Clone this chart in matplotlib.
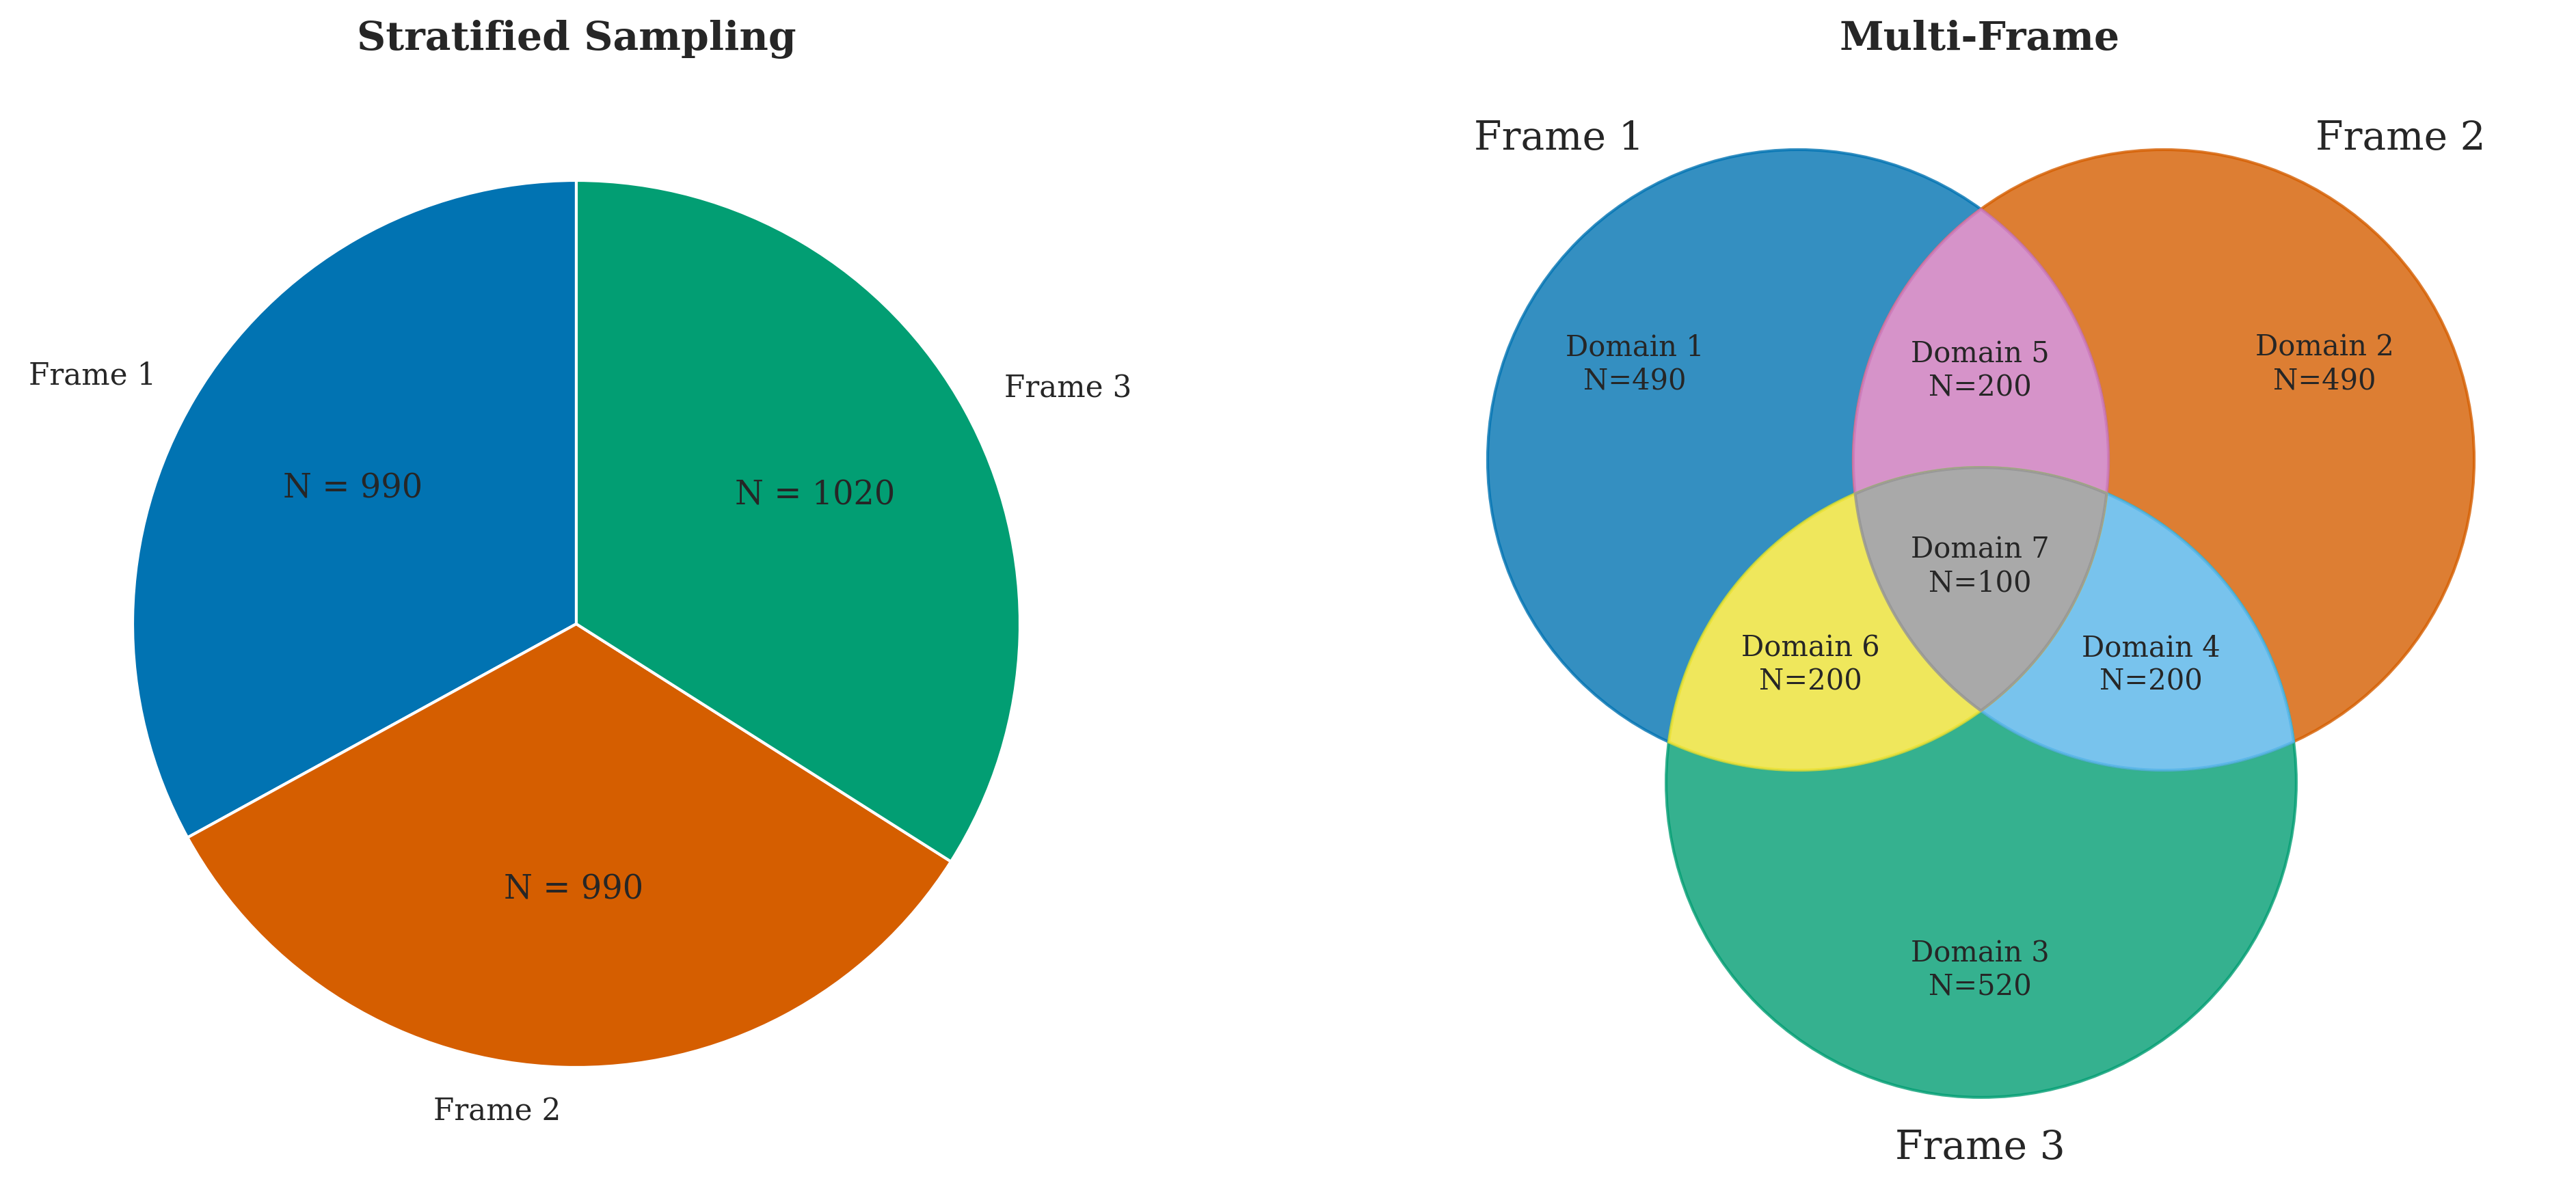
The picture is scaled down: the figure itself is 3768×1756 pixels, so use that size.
import numpy as np
import matplotlib
matplotlib.use('Agg')
import matplotlib.pyplot as plt
from matplotlib.patches import Circle, Polygon

plt.rcParams['font.family'] = 'DejaVu Serif'
plt.rcParams['text.color'] = '#262626'

# --- data ---
frames = ['Frame 1', 'Frame 2', 'Frame 3']
frame_sizes = [990, 990, 1020]
pie_colors = ['#0173B2', '#D55E00', '#029E73']

domain_names = ['Domain 1', 'Domain 2', 'Domain 3', 'Domain 4',
                'Domain 5', 'Domain 6', 'Domain 7']
domain_sizes = [490, 490, 520, 200, 200, 200, 100]
# which frames each domain belongs to
domain_sets = [(0,), (1,), (2,), (1, 2), (0, 1), (0, 2), (0, 1, 2)]
overlap_colors = {(0, 1): '#CC78BC', (1, 2): '#56B4E9',
                  (0, 2): '#ECE133', (0, 1, 2): '#949494'}

# --- layout (figure pixels, y up) ---
W, H = 3768, 1756
DPI = 300
pie_center = (843, H - 913)
pie_radius = 649
venn_centers = [(2630, H - 673), (3165, H - 673), (2898, H - 1145)]
px_per_sqrt = 14.43
domain_pos = [(2391, H - 533), (3400, H - 533), (2896, H - 1420),
              (3146, H - 973), (2896, H - 543), (2648, H - 973),
              (2896, H - 829)]
frame_label_pos = [(2280, H - 203), (3511, H - 203), (2896, H - 1680)]
title_y = H - 57


def region_polygon(circles, n=4000):
    """Intersection of circles (convex) as a sorted polygon"""
    pts = []
    t = np.linspace(0, 2 * np.pi, n, endpoint=False)
    for i, (cx, cy, r) in enumerate(circles):
        p = np.column_stack([cx + r * np.cos(t), cy + r * np.sin(t)])
        keep = np.ones(n, bool)
        for j, (ox, oy, rr) in enumerate(circles):
            if i != j:
                keep &= np.hypot(p[:, 0] - ox, p[:, 1] - oy) <= rr + 1e-6
        pts.append(p[keep])
    pts = np.vstack(pts)
    c = pts.mean(axis=0)
    ang = np.arctan2(pts[:, 1] - c[1], pts[:, 0] - c[0])
    return pts[np.argsort(ang)]


fig = plt.figure(figsize=(W / DPI, H / DPI), dpi=DPI)

# --- stratified sampling pie ---
ax1 = fig.add_axes([0, 0, 0.5, 1])
total = sum(frame_sizes)
wedges, texts, autotexts = ax1.pie(
    frame_sizes, labels=frames, colors=pie_colors, startangle=90,
    center=pie_center, radius=pie_radius,
    autopct=lambda p: 'N = %d' % round(p * total / 100),
    wedgeprops=dict(edgecolor='white', linewidth=1),
    textprops=dict(fontsize=10.5, color='#262626'))
# alignment relative to the pie centre, not the axes origin
for t in texts:
    x = t.get_position()[0]
    t.set_horizontalalignment('right' if x < pie_center[0] else 'left')
for t in autotexts:
    t.set_fontsize(11.5)
    x, y = t.get_position()
    t.set_position((x + 8, y))
ax1.set_xlim(0, W / 2)
ax1.set_ylim(0, H)
ax1.set_aspect('auto')
ax1.axis('off')
ax1.text(pie_center[0], title_y, 'Stratified Sampling', ha='center',
         va='center', fontsize=14, fontweight='bold')

# --- multi-frame venn ---
ax2 = fig.add_axes([0.5, 0, 0.5, 1])
set_totals = [sum(s for s, m in zip(domain_sizes, domain_sets) if k in m)
              for k in range(3)]
circles = [(cx, cy, px_per_sqrt * np.sqrt(tot))
           for (cx, cy), tot in zip(venn_centers, set_totals)]

for (cx, cy, r), col in zip(circles, pie_colors):
    ax2.add_patch(Circle((cx, cy), r, facecolor=col, edgecolor=col,
                         alpha=0.8, linewidth=1.0, zorder=1))

z = 2
for key in [(0, 1), (1, 2), (0, 2), (0, 1, 2)]:
    poly = region_polygon([circles[k] for k in key])
    ax2.add_patch(Polygon(poly, closed=True, facecolor='white',
                          edgecolor='none', zorder=z))
    ax2.add_patch(Polygon(poly, closed=True, facecolor=overlap_colors[key],
                          edgecolor=overlap_colors[key], alpha=0.8,
                          linewidth=1.0, zorder=z + 0.5))
    z += 1

for name, size, (x, y) in zip(domain_names, domain_sizes, domain_pos):
    ax2.text(x, y, '%s\nN=%d' % (name, size), ha='center', va='center',
             fontsize=10, linespacing=1.2, zorder=10)

for name, (x, y) in zip(frames, frame_label_pos):
    ax2.text(x, y, name, ha='center', va='center', fontsize=14, zorder=10)

ax2.set_xlim(W / 2, W)
ax2.set_ylim(0, H)
ax2.axis('off')
ax2.text(2896, title_y, 'Multi-Frame', ha='center', va='center',
         fontsize=14, fontweight='bold')

fig.savefig('out.png', dpi=DPI, facecolor='white')
